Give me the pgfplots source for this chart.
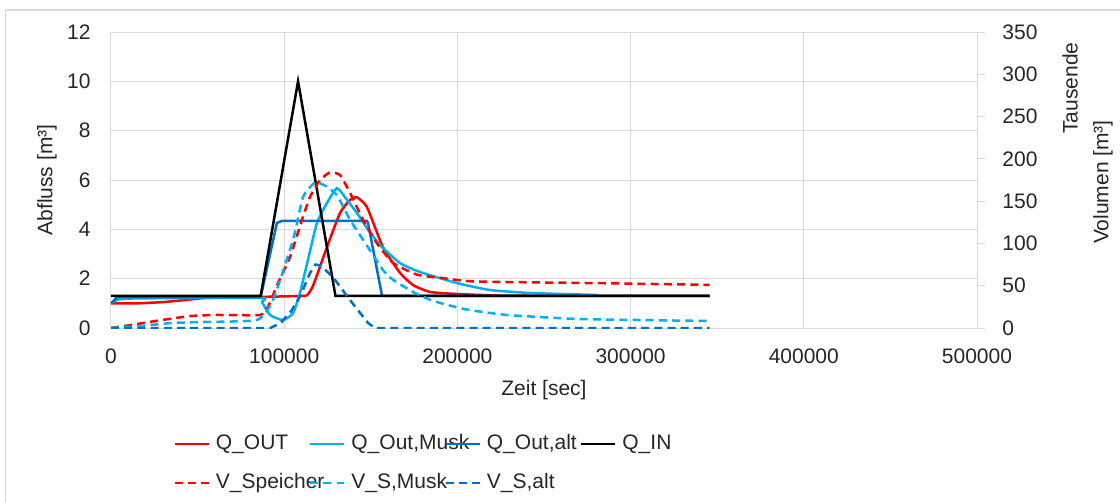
\documentclass[border=0pt]{standalone}
\usepackage{fontspec}
\setmainfont{Liberation Sans}
\usepackage{pgfplots}
\pgfplotsset{compat=1.18}

\definecolor{cRed}{HTML}{FF0000}
\definecolor{cMusk}{HTML}{00B0F0}
\definecolor{cAlt}{HTML}{0070C0}
\definecolor{cGrid}{HTML}{D9D9D9}
\definecolor{cText}{HTML}{262626}

\pgfplotsset{
  every axis/.append style={
    font=\fontsize{10.5pt}{12pt}\selectfont,
    scale only axis, width=433pt, height=148pt,
    at={(0,0)}, anchor=south west,
    xmin=0, xmax=500000,
    /pgf/number format/assume math mode=true,
    tick label style={text=cText},
  },
  qline/.style={line width=1.25pt},
  vline/.style={line width=1.25pt, dash pattern=on 4pt off 2.6pt},
}

\begin{document}
\begin{tikzpicture}
\useasboundingbox (-55.5pt,-87.5pt) rectangle (504.5pt,164pt);
\draw[cGrid, line width=0.75pt] (-52.75pt,-90pt) -- (-52.75pt,159pt) -- (510pt,159pt);

% left axis: Abfluss
\begin{axis}[
  ymin=0, ymax=12,
  ytick={0,2,...,12},
  xtick={0,100000,...,500000},
  scaled x ticks=false,
  xticklabel style={/pgf/number format/fixed, /pgf/number format/1000 sep={}, inner sep=0pt, yshift=-10pt},
  yticklabel style={inner sep=0pt, xshift=-10pt},
  major tick length=0pt,
  axis x line*=bottom, axis y line*=left,
  axis line style={draw=cGrid, line width=0.5pt, -},
  grid=major, grid style={draw=cGrid, line width=0.5pt},
  xlabel={Zeit [sec]},
  xlabel style={at={(axis description cs:0.5,-0.21)}, anchor=center, text=cText},
  ylabel={Abfluss [m³]},
  ylabel style={at={(axis description cs:-0.074,0.5)}, anchor=center, rotate=0, text=cText},
]
% Q_OUT
\addplot[qline, cRed, smooth, tension=0.3] coordinates {
(0,1.0) (15000,1.0) (30000,1.05) (45000,1.15) (55000,1.22) (86400,1.26)
(110000,1.3) (113200,1.33) (116600,1.7) (124700,3.28) (132200,4.66)
(138000,5.19) (142000,5.3) (147800,4.9) (157000,3.28) (166900,2.23)
(174400,1.74) (184200,1.46) (199800,1.38) (230000,1.31) (345600,1.3)};
% Q_Out,Musk
\addplot[qline, cMusk, smooth, tension=0.3] coordinates {
(0,1.0) (4000,1.15) (15000,1.2) (86400,1.22) (87200,1.05) (91800,0.53)
(99300,0.32) (105100,0.6) (109100,1.42) (113700,2.76) (118900,4.26)
(124700,5.07) (130500,5.67) (136300,5.19) (142000,4.66) (147800,4.05)
(155300,3.36) (166900,2.63) (178400,2.27) (199800,1.82) (218800,1.54)
(241900,1.42) (280600,1.34)};
% Q_Out,alt
\addplot[qline, cAlt] coordinates {
(0,1.0) (3500,1.25) (86400,1.25) (95800,4.26) (98700,4.34) (147800,4.34)
(148400,4.26) (156500,1.3) (345600,1.3)};
% Q_IN
\addplot[qline, black] coordinates {
(0,1.3) (86400,1.3) (108000,10) (129600,1.3) (345600,1.3)};
\end{axis}

% right axis: Volumen (Tausende)
\begin{axis}[
  ymin=0, ymax=350,
  ytick={0,50,...,350},
  axis x line=none, axis y line*=right,
  axis line style={draw=cGrid, line width=0.5pt, -},
  tick style={draw=cGrid, line width=0.5pt},
  tick align=outside, major tick length=4pt,
  yticklabel style={inner sep=0pt, xshift=8.5pt},
  ylabel={Volumen [m³]},
  ylabel style={at={(axis description cs:1.1455,0.493)}, anchor=center, rotate=0, text=cText},
  legend columns=4,
  legend style={
    at={(axis description cs:0.0716,-0.355)}, anchor=north west,
    draw=none, fill=none, inner sep=0pt, row sep=9pt,
    nodes={inner sep=0pt, text height=8pt, text depth=2.5pt, text width=46.5pt, align=left, text=cText},
    /tikz/every odd column/.append style={column sep=3pt},
  },
  legend image code/.code={\draw[#1] (0pt,0pt) -- (17pt,0pt);},
]
\addlegendimage{qline, cRed}\addlegendentry{Q\_OUT}
\addlegendimage{qline, cMusk}\addlegendentry{Q\_Out,Musk}
\addlegendimage{qline, cAlt}\addlegendentry{Q\_Out,alt}
\addlegendimage{qline, black}\addlegendentry{Q\_IN}

% V_Speicher
\addplot[vline, cRed, smooth, tension=0.3] coordinates {
(0,0) (10000,3) (25000,8) (45000,14) (60000,15.4) (86000,15.4) (90600,25)
(96400,53) (103400,84) (110300,128) (114900,155) (120700,175) (126400,184)
(132200,181) (138000,160) (145500,128) (153600,100) (162800,77)
(176700,63) (191700,59) (210000,55) (282300,53) (345600,51)};
\addlegendentry{V\_Speicher}
% V_S,Musk
\addplot[vline, cMusk, smooth, tension=0.3] coordinates {
(0,0) (15000,2) (35000,5.9) (50000,7) (84300,9.5) (93500,33) (105100,104)
(110900,155) (117800,172) (124000,168) (130500,157) (138000,128)
(149500,92) (157000,68.6) (162800,57) (175000,42) (186000,32)
(205000,22) (228600,15.4) (270800,10.6) (345600,8.3)};
\addlegendentry{V\_S,Musk}
% V_S,alt
\addplot[vline, cAlt] coordinates {
(0,0) (92000,0) (98000,6) (104000,20) (109100,37) (114900,65) (118000,75)
(121000,74) (128200,60) (138000,33) (148400,6) (152400,0) (345600,0)};
\addlegendentry{V\_S,alt}
\end{axis}
\node[rotate=90, anchor=center, text=cText, font=\fontsize{10.5pt}{12pt}\selectfont] at (479.5pt,120pt) {Tausende};
\end{tikzpicture}
\end{document}
